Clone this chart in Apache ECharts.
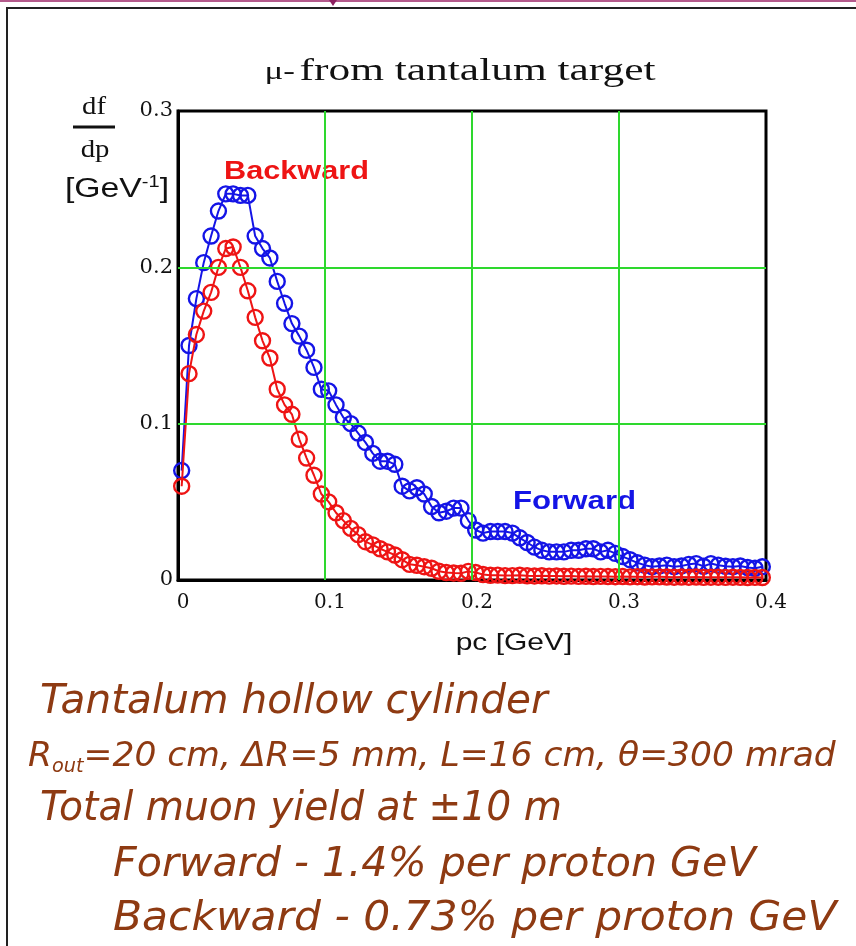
<!DOCTYPE html>
<html>
<head>
<meta charset="utf-8">
<script src="https://cdn.jsdelivr.net/npm/echarts@6/dist/echarts.min.js"></script>
<style>
  html, body { margin: 0; padding: 0; background: #fff; }
  #chart { width: 856px; height: 946px; }
</style>
</head>
<body>
<div id="chart"></div>
<script>
// Momentum bin centres, pc [GeV]
const momentum = [
  0.0025, 0.0075, 0.0125, 0.0175, 0.0225, 0.0275, 0.0325, 0.0375, 0.0425, 0.0475,
  0.0525, 0.0575, 0.0625, 0.0675, 0.0725, 0.0775, 0.0825, 0.0875, 0.0925, 0.0975,
  0.1025, 0.1075, 0.1125, 0.1175, 0.1225, 0.1275, 0.1325, 0.1375, 0.1425, 0.1475,
  0.1525, 0.1575, 0.1625, 0.1675, 0.1725, 0.1775, 0.1825, 0.1875, 0.1925, 0.1975,
  0.2025, 0.2075, 0.2125, 0.2175, 0.2225, 0.2275, 0.2325, 0.2375, 0.2425, 0.2475,
  0.2525, 0.2575, 0.2625, 0.2675, 0.2725, 0.2775, 0.2825, 0.2875, 0.2925, 0.2975,
  0.3025, 0.3075, 0.3125, 0.3175, 0.3225, 0.3275, 0.3325, 0.3375, 0.3425, 0.3475,
  0.3525, 0.3575, 0.3625, 0.3675, 0.3725, 0.3775, 0.3825, 0.3875, 0.3925, 0.3975
];

// df/dp [GeV^-1], forward-going mu-
const forward = [
  0.070, 0.150, 0.180, 0.203, 0.220, 0.236, 0.247, 0.247, 0.246, 0.246,
  0.220, 0.212, 0.206, 0.191, 0.177, 0.164, 0.156, 0.147, 0.136, 0.122,
  0.121, 0.112, 0.104, 0.100, 0.094, 0.088, 0.081, 0.076, 0.076, 0.074,
  0.060, 0.057, 0.059, 0.055, 0.047, 0.043, 0.044, 0.046, 0.046, 0.038,
  0.032, 0.030, 0.031, 0.031, 0.031, 0.030, 0.027, 0.024, 0.021, 0.019,
  0.018, 0.018, 0.018, 0.019, 0.019, 0.020, 0.020, 0.018, 0.019, 0.017,
  0.015, 0.013, 0.011, 0.0095, 0.0085, 0.009, 0.0095, 0.0085, 0.009, 0.010,
  0.0105, 0.0088, 0.0105, 0.0095, 0.0088, 0.0085, 0.009, 0.008, 0.0075, 0.0085
];

// df/dp [GeV^-1], backward-going mu-
const backward = [
  0.060, 0.132, 0.157, 0.172, 0.184, 0.200, 0.212, 0.213, 0.200, 0.185,
  0.168, 0.153, 0.142, 0.122, 0.112, 0.106, 0.090, 0.078, 0.067, 0.055,
  0.050, 0.043, 0.038, 0.033, 0.029, 0.0245, 0.0225, 0.020, 0.018, 0.016,
  0.013, 0.010, 0.0094, 0.0085, 0.0075, 0.0056, 0.0048, 0.0045, 0.0043, 0.0055,
  0.0048, 0.0035, 0.0030, 0.0031, 0.0028, 0.0028, 0.0030, 0.0027, 0.0026, 0.0027,
  0.0025, 0.0026, 0.0024, 0.0025, 0.0023, 0.0024, 0.0022, 0.0023, 0.0022, 0.0021,
  0.0022, 0.0020, 0.0021, 0.0019, 0.0020, 0.0020, 0.0019, 0.0018, 0.0019, 0.0018,
  0.0019, 0.0017, 0.0018, 0.0018, 0.0017, 0.0018, 0.0017, 0.0016, 0.0017, 0.0016
];

// Interior grid positions
const xGridTicks = [0.1, 0.2, 0.3];
const yGridTicks = [0.1, 0.2];

const BLUE = '#1414e6';
const RED = '#ee1414';
const BROWN = '#8e3a12';
const GRID_GREEN = '#2ed82e';

const chart = echarts.init(document.getElementById('chart'), null, { renderer: 'canvas' });

function markerSeries(name, values, color, z) {
  return {
    name: name,
    type: 'line',
    data: momentum.map((p, i) => [p, values[i]]),
    symbol: 'circle',
    symbolSize: 15,
    showAllSymbol: true,
    clip: false,
    silent: true,
    z: z,
    itemStyle: { color: 'rgba(0,0,0,0)', borderColor: color, borderWidth: 2.4 },
    lineStyle: { color: color, width: 2 },
    emphasis: { disabled: true }
  };
}

// green reference grid, drawn beneath the data
const gridSeries = {
  type: 'line',
  data: [],
  silent: true,
  z: 1,
  markLine: {
    silent: true,
    symbol: ['none', 'none'],
    label: { show: false },
    animation: false,
    lineStyle: { color: GRID_GREEN, width: 2, type: 'solid', opacity: 1 },
    emphasis: { disabled: true },
    data: xGridTicks.map(v => ({ xAxis: v })).concat(yGridTicks.map(v => ({ yAxis: v })))
  }
};

const bottomLine = (y, x, sx, content, rich) => ({
  type: 'text', x: x, y: y, scaleX: sx,
  style: {
    text: content,
    fill: BROWN,
    font: 'italic 40px "DejaVu Sans"',
    verticalAlign: 'middle',
    align: 'left',
    rich: rich
  }
});

const option = {
  animation: false,
  backgroundColor: '#fff',
  grid: {
    left: 178, right: 90, top: 111, bottom: 366,
    show: true, borderColor: '#000', borderWidth: 3, backgroundColor: '#fff'
  },
  xAxis: {
    type: 'value', min: 0, max: 0.4, interval: 0.1,
    axisLine: { show: true, onZero: false, lineStyle: { color: '#000', width: 3 } },
    axisTick: { show: false },
    splitLine: { show: false },
    axisLabel: {
      fontFamily: 'DejaVu Serif', fontSize: 20, color: '#111',
      margin: 13, padding: [0, 0, 0, 10]
    }
  },
  yAxis: {
    type: 'value', min: 0, max: 0.3, interval: 0.1,
    axisLine: { show: true, onZero: false, lineStyle: { color: '#000', width: 3 } },
    axisTick: { show: false },
    splitLine: { show: false },
    axisLabel: {
      fontFamily: 'DejaVu Serif', fontSize: 21, color: '#111',
      margin: 5, padding: [10, 0, 0, 0]
    }
  },
  series: [
    gridSeries,
    markerSeries('Forward', forward, BLUE, 3),
    markerSeries('Backward', backward, RED, 4)
  ],
  graphic: [
    // slide header rule and frame
    { type: 'line', shape: { x1: 0, y1: 1, x2: 856, y2: 1 }, style: { stroke: '#b45a8c', lineWidth: 2 } },
    { type: 'polygon', shape: { points: [[329, 0], [337, 0], [333, 6]] }, style: { fill: '#8c2060' } },
    { type: 'polyline', shape: { points: [[7, 946], [7, 8], [856, 8]] }, style: { stroke: '#222', lineWidth: 2, fill: null } },

    // title
    {
      type: 'text', x: 460, y: 72, scaleX: 1.4,
      style: {
        text: '{m|\u03bc-} {t|from tantalum target}',
        align: 'center', verticalAlign: 'middle', fill: '#111',
        rich: {
          m: { font: '25px "Liberation Serif"', fill: '#111' },
          t: { font: '31px "Liberation Serif"', fill: '#111' }
        }
      }
    },

    // y-axis quantity df/dp [GeV^-1]
    { type: 'text', x: 94, y: 107, scaleX: 1.15, style: { text: 'df', font: '25px "Liberation Serif"', fill: '#111', align: 'center', verticalAlign: 'middle' } },
    { type: 'line', shape: { x1: 73, y1: 127, x2: 115, y2: 127 }, style: { stroke: '#111', lineWidth: 3 } },
    { type: 'text', x: 95, y: 150, scaleX: 1.15, style: { text: 'dp', font: '25px "Liberation Serif"', fill: '#111', align: 'center', verticalAlign: 'middle' } },
    {
      type: 'text', x: 117, y: 190, scaleX: 1.25,
      style: {
        text: '{b|[GeV}{s|-1}{b|]}',
        align: 'center', verticalAlign: 'middle',
        rich: {
          b: { font: '27px "Liberation Sans"', fill: '#111', lineHeight: 30 },
          s: { font: '16px "Liberation Sans"', fill: '#111', verticalAlign: 'top', lineHeight: 16 }
        }
      }
    },

    // x-axis quantity
    { type: 'text', x: 514, y: 643, scaleX: 1.25, style: { text: 'pc [GeV]', font: '24px "Liberation Sans"', fill: '#111', align: 'center', verticalAlign: 'middle' } },

    // curve labels
    { type: 'text', x: 224, y: 172, scaleX: 1.18, style: { text: 'Backward', font: 'bold 26px "Liberation Sans"', fill: RED, align: 'left', verticalAlign: 'middle' } },
    { type: 'text', x: 513, y: 502, scaleX: 1.2, style: { text: 'Forward', font: 'bold 26px "Liberation Sans"', fill: BLUE, align: 'left', verticalAlign: 'middle' } },

    // target description
    bottomLine(703, 40, 1.015, 'Tantalum hollow cylinder'),
    bottomLine(757, 28, 1.015, '{t|R}{sub|out}{t|=20 cm, \u0394R=5 mm, L=16 cm, \u03b8=300 mrad}', {
      t: { font: 'italic 34px "DejaVu Sans"', fill: BROWN, lineHeight: 40 },
      sub: { font: 'italic 19px "DejaVu Sans"', fill: BROWN, verticalAlign: 'bottom', lineHeight: 20 }
    }),
    bottomLine(810, 40, 0.98, 'Total muon yield at \u00b110 m'),
    bottomLine(866, 113, 1.03, 'Forward - 1.4% per proton GeV'),
    bottomLine(920, 113, 1.06, 'Backward - 0.73% per proton GeV')
  ]
};

chart.setOption(option);
</script>
</body>
</html>
